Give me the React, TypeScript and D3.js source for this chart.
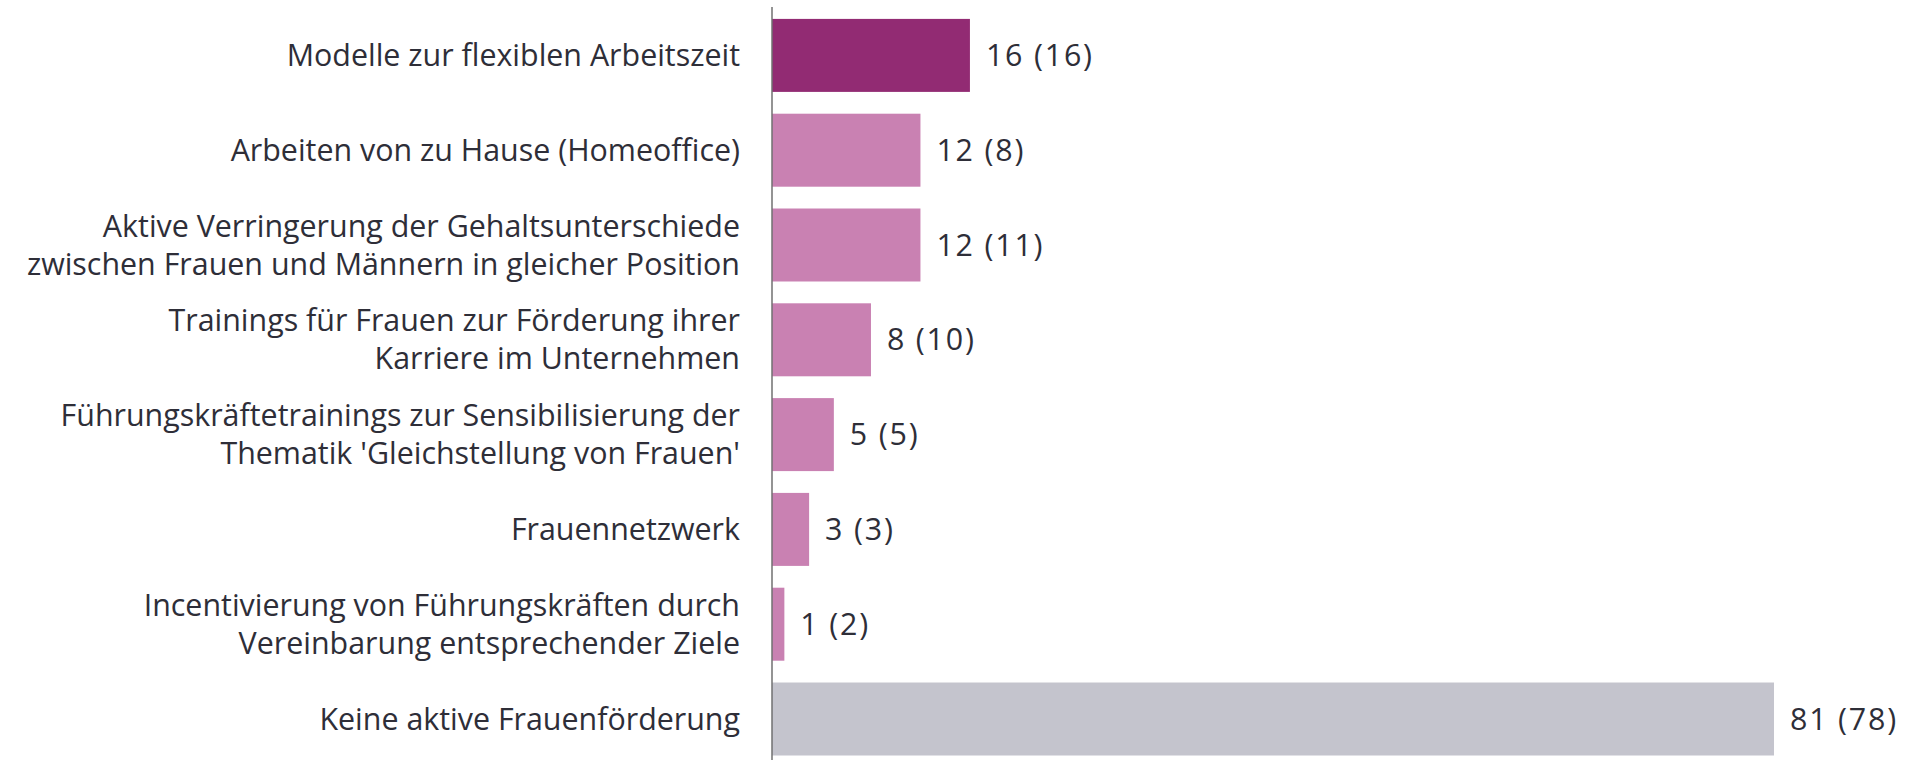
import React, { useRef, useEffect } from 'react';
import * as d3 from 'd3';

// categories, top to bottom; line breaks as in the source chart
const categories = [
  ['Modelle zur flexiblen Arbeitszeit'],
  ['Arbeiten von zu Hause (Homeoffice)'],
  ['Aktive Verringerung der Gehaltsunterschiede', 'zwischen Frauen und Männern in gleicher Position'],
  ['Trainings für Frauen zur Förderung ihrer', 'Karriere im Unternehmen'],
  ['Führungskräftetrainings zur Sensibilisierung der', "Thematik 'Gleichstellung von Frauen'"],
  ['Frauennetzwerk'],
  ['Incentivierung von Führungskräften durch', 'Vereinbarung entsprechender Ziele'],
  ['Keine aktive Frauenförderung'],
];
const values = [16, 12, 12, 8, 5, 3, 1, 81];
const previousValues = [16, 8, 11, 10, 5, 3, 2, 78];

const W = 1917;
const H = 760;
const FONT = "'Open Sans', 'Noto Sans', sans-serif";
const TEXT = '#2e2e38';

const App = () => {
  const ref = useRef<SVGSVGElement>(null);

  useEffect(() => {
    document.body.style.margin = '0';
    const svg = d3.select(ref.current);
    svg.selectAll('*').remove();

    const x0 = 772;
    const xScale = d3.scaleLinear().domain([0, 81]).range([x0, 1774]);
    const yScale = d3.scaleBand<number>()
      .domain(d3.range(values.length))
      .range([8, 766.4])
      .paddingInner(0.23)
      .paddingOuter(0.115);

    const colour = (i: number) =>
      i === 0 ? '#922b73' : i === values.length - 1 ? '#c4c4cd' : '#c981b2';

    // bars
    svg.append('g').selectAll('rect')
      .data(values)
      .enter().append('rect')
      .attr('x', xScale(0))
      .attr('y', (d, i) => yScale(i)!)
      .attr('width', d => xScale(d) - xScale(0))
      .attr('height', yScale.bandwidth())
      .attr('fill', (d, i) => colour(i));

    // vertical axis line
    svg.append('line')
      .attr('x1', x0).attr('x2', x0)
      .attr('y1', 7).attr('y2', H)
      .attr('stroke', '#707070')
      .attr('stroke-width', 1.5);

    // category labels, one text per line
    const labels = svg.append('g')
      .attr('font-family', FONT)
      .attr('font-size', 30.4)
      .attr('fill', TEXT)
      .attr('text-anchor', 'end');
    const lh = 38;
    categories.forEach((lines, i) => {
      const cy = yScale(i)! + yScale.bandwidth() / 2;
      lines.forEach((line, j) => {
        labels.append('text')
          .attr('x', 740)
          .attr('y', cy - ((lines.length - 1) * lh) / 2 + j * lh)
          .attr('dy', '0.35em')
          .text(line);
      });
    });

    // value labels
    svg.append('g')
      .attr('font-family', FONT)
      .attr('font-size', 30.4)
      .attr('letter-spacing', 1.8)
      .attr('fill', TEXT)
      .selectAll('text')
      .data(values)
      .enter().append('text')
      .attr('x', d => xScale(d) + 16)
      .attr('y', (d, i) => yScale(i)! + yScale.bandwidth() / 2)
      .attr('dy', '0.35em')
      .text((d, i) => d + ' (' + previousValues[i] + ')');
  }, []);

  return <svg ref={ref} width={W} height={H} style={{ display: 'block' }}></svg>;
};

export default App;
